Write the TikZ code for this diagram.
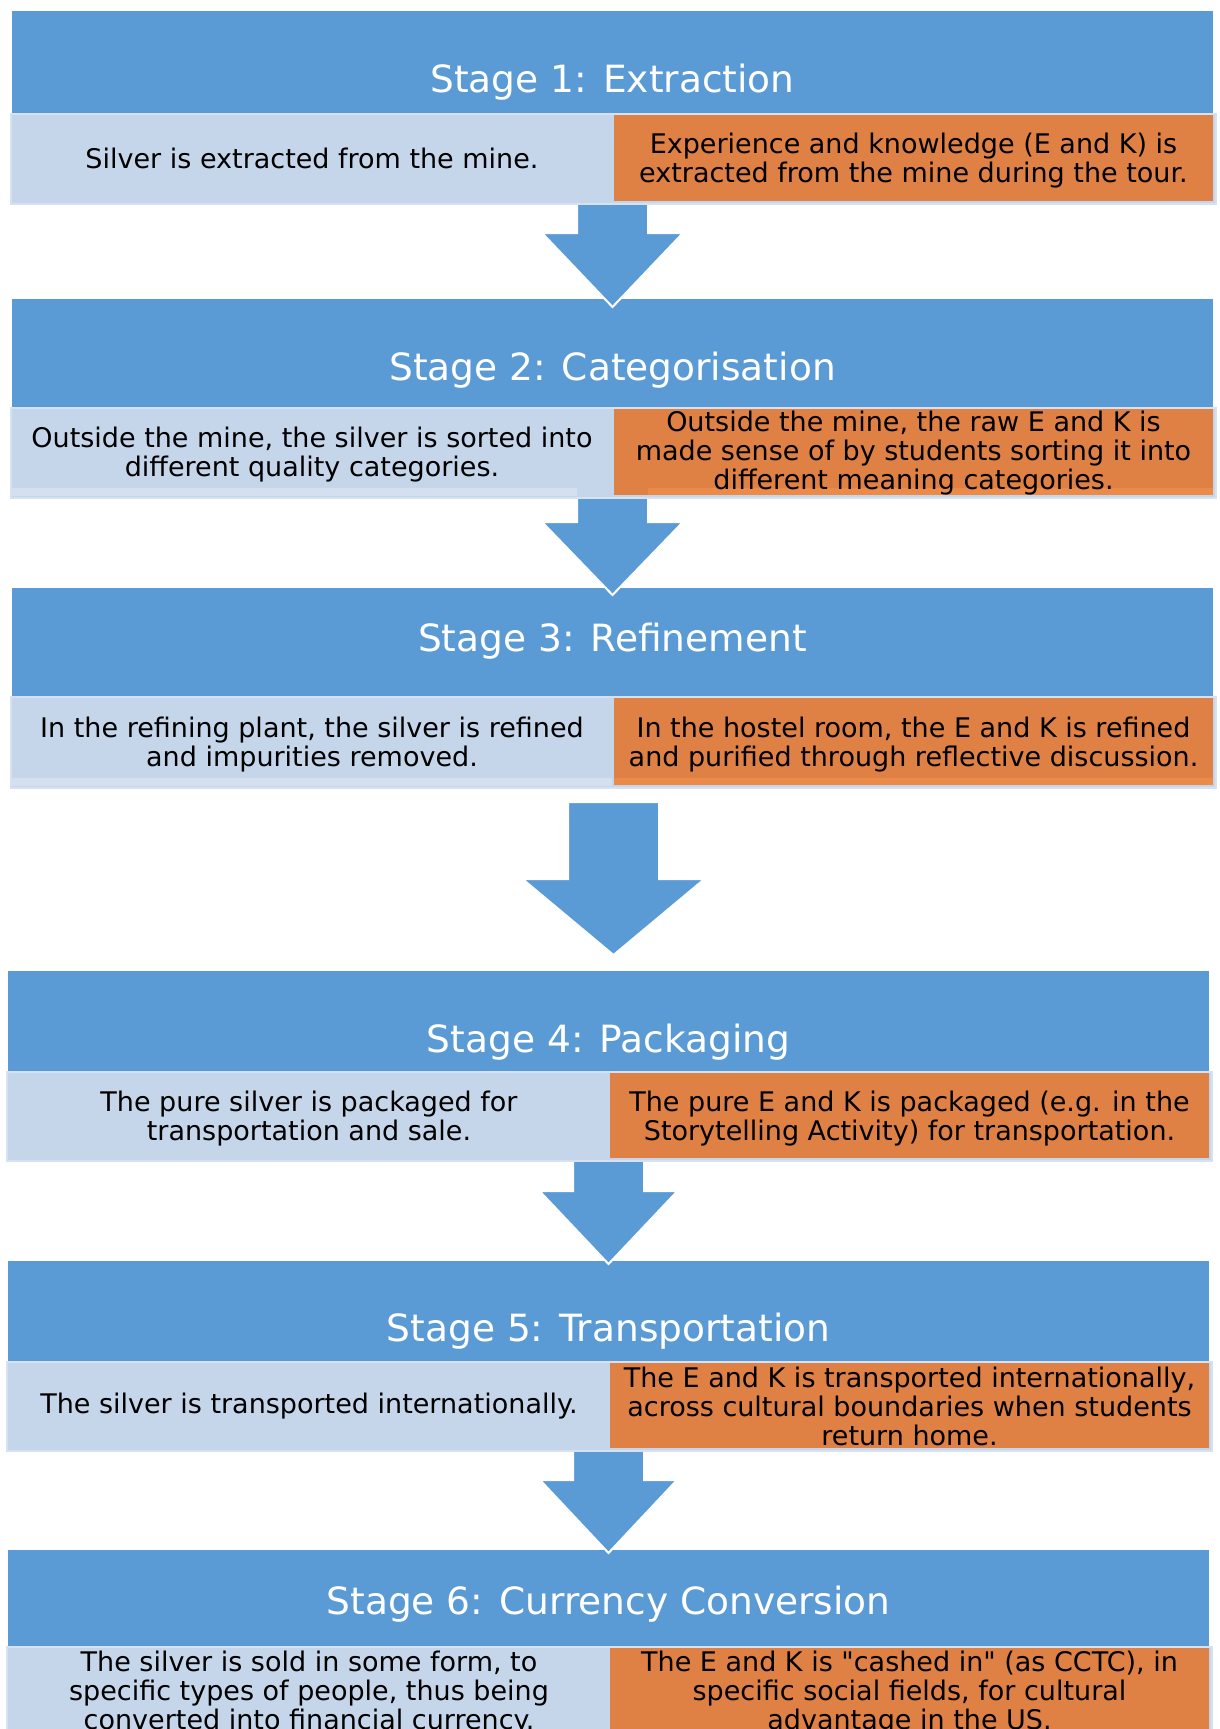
\documentclass[tikz,border=0pt]{standalone}
\usepackage{fontspec}
\setmainfont{DejaVu Sans}[Ligatures=TeXOff]
\definecolor{hdr}{HTML}{5B9BD5}
\definecolor{lite}{HTML}{C5D6EB}
\definecolor{liteedge}{HTML}{D6E2F1}
\definecolor{org}{HTML}{DF8044}
\definecolor{orglite}{HTML}{EC8A48}
\definecolor{litestrip}{HTML}{D4E0EF}
\newcommand\blockarrow[6]{%
  \path[arrowfill] (#1-#3,#2) -- (#1+#3,#2) -- (#1+#3,#5) -- (#1+#4,#5) -- (#1,#6) -- (#1-#4,#5) -- (#1-#3,#5) -- cycle;}
\begin{document}
\begin{tikzpicture}[x=1pt,y=-1pt,
  hdrbox/.style={fill=hdr, draw=none, inner sep=0pt, anchor=north west},
  litebox/.style={fill=lite, draw=liteedge, line width=2pt, inner sep=0pt, anchor=north west},
  orgbox/.style={fill=org, draw=none, inner sep=0pt, anchor=north west},
  titletxt/.style={text=white, inner sep=0pt, font=\fontsize{37.5}{40}\selectfont},
  bodytxt/.style={text=black, inner sep=0pt, align=center, font=\fontsize{27}{29}\selectfont},
  arrowfill/.style={fill=hdr, draw=white, line width=2pt, line join=miter}]
\useasboundingbox (0,0) rectangle (1219,1729);
\clip (0,0) rectangle (1219,1729);

% headers
\node[hdrbox, minimum width=1201pt, minimum height=102pt] (h1) at (12,11) {};
\node[hdrbox, minimum width=1201pt, minimum height=108pt] (h2) at (12,299) {};
\node[hdrbox, minimum width=1201pt, minimum height=108pt] (h3) at (12,588) {};
\node[hdrbox, minimum width=1201pt, minimum height=100pt] (h4) at (8,971) {};
\node[hdrbox, minimum width=1201pt, minimum height=100pt] (h5) at (8,1261) {};
\node[hdrbox, minimum width=1201pt, minimum height=96pt] (h6) at (8,1550) {};

\node[titletxt] (t1) at (612.5,82) {Stage 1: Extraction};
\node[titletxt] (t2) at (612.5,370) {Stage 2: Categorisation};
\node[titletxt] (t3) at (612.5,641) {Stage 3: Refinement};
\node[titletxt] (t4) at (608.5,1042) {Stage 4: Packaging};
\node[titletxt] (t5) at (608.5,1331) {Stage 5: Transportation};
\node[titletxt] (t6) at (608.5,1604) {Stage 6: Currency Conversion};

% arrows
\blockarrow{612.5}{203}{35.5}{70.5}{233}{307}
\blockarrow{612.5}{497}{35.5}{70.5}{522}{595}
\blockarrow{613.5}{802}{45.5}{91}{879}{955}
\blockarrow{608.5}{1160}{35.5}{69}{1191}{1264}
\blockarrow{608.5}{1450}{35.5}{68.5}{1480}{1553}

% rows
\node[litebox, minimum width=1205pt, minimum height=90pt] (l1) at (10,113) {};
\node[orgbox, minimum width=599pt, minimum height=86pt] (o1) at (614,115) {};
\node[litebox, minimum width=1205pt, minimum height=90pt] (l2) at (10,407) {};
\node[orgbox, minimum width=599pt, minimum height=86pt] (o2) at (614,409) {};
\node[litebox, minimum width=1205pt, minimum height=91pt] (l3) at (10,696) {};
\node[orgbox, minimum width=599pt, minimum height=87pt] (o3) at (614,698) {};
\node[litebox, minimum width=1205pt, minimum height=89pt] (l4) at (6,1071) {};
\node[orgbox, minimum width=599pt, minimum height=85pt] (o4) at (610,1073) {};
\node[litebox, minimum width=1205pt, minimum height=89pt] (l5) at (6,1361) {};
\node[orgbox, minimum width=599pt, minimum height=85pt] (o5) at (610,1363) {};
\node[litebox, minimum width=1205pt, minimum height=114pt] (l6) at (6,1646) {};
\node[orgbox, minimum width=599pt, minimum height=112pt] (o6) at (610,1648) {};

% faint strips
\fill[litestrip] (12,488) rectangle (577,496);
\fill[orglite] (648,488) rectangle (1213,495);
\fill[litestrip] (12,778) rectangle (612,786);
\fill[orglite] (614,778) rectangle (1213,785);

% texts
\node[bodytxt] (x1l) at (312,158) {Silver is extracted from the mine.};
\node[bodytxt] (x1r) at (913.5,161) {Experience and knowledge (E and K) is\\extracted from the mine during the tour.};
\node[bodytxt] (x2l) at (312,455) {Outside the mine, the silver is sorted into\\different quality categories.};
\node[bodytxt] (x2r) at (913.5,453) {Outside the mine, the raw E and K is\\made sense of by students sorting it into\\different meaning categories.};
\node[bodytxt] (x3l) at (312,745) {In the refining plant, the silver is refined\\and impurities removed.};
\node[bodytxt] (x3r) at (913.5,745) {In the hostel room, the E and K is refined\\and purified through reflective discussion.};
\node[bodytxt] (x4l) at (309,1119) {The pure silver is packaged for\\transportation and sale.};
\node[bodytxt] (x4r) at (909.5,1119) {The pure E and K is packaged (e.g. in the\\Storytelling Activity) for transportation.};
\node[bodytxt] (x5l) at (309,1406) {The silver is transported internationally.};
\node[bodytxt] (x5r) at (909.5,1406) {The E and K is transported internationally,\\across cultural boundaries when students\\return home.};
\node[bodytxt] (x6l) at (309,1693) {The silver is sold in some form, to\\specific types of people, thus being\\converted into financial currency.};
\node[bodytxt] (x6r) at (909.5,1693) {The E and K is "cashed in" (as CCTC), in\\specific social fields, for cultural\\advantage in the US.};
\end{tikzpicture}
\end{document}
